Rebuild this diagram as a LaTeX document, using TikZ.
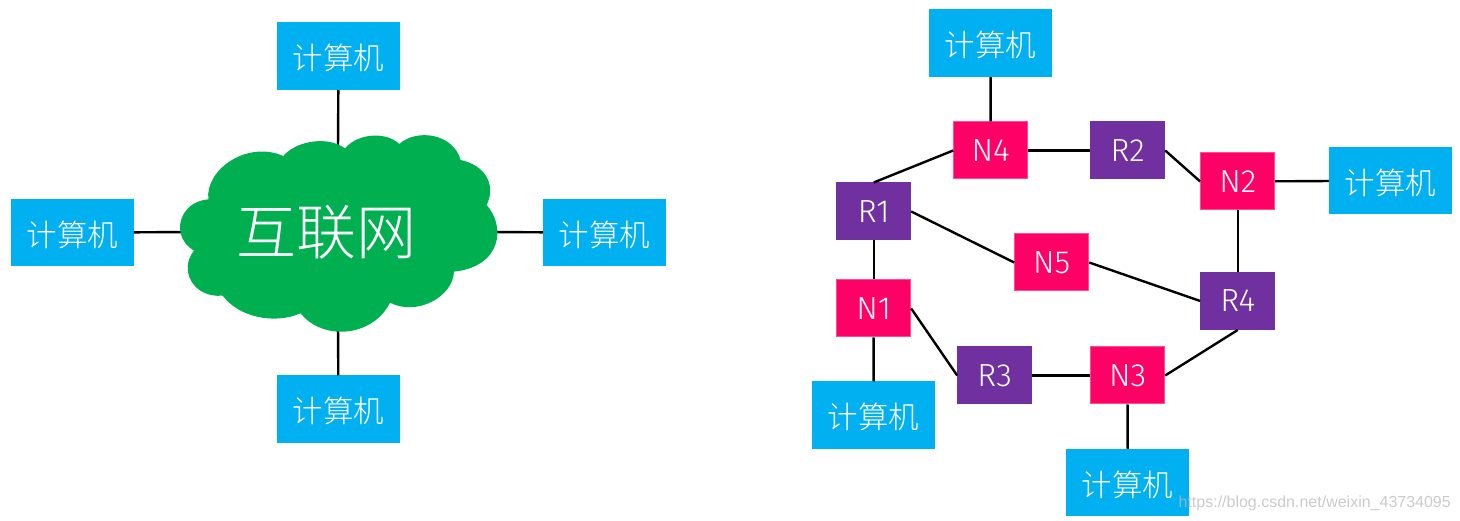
\documentclass[tikz,border=0pt]{standalone}
\usepackage{fontspec}
\newfontfamily\latinfont{Fira Sans Light}
\newfontfamily\cjk{Noto Sans CJK SC Light}
\definecolor{compblue}{HTML}{00B0F0}
\definecolor{cloudgreen}{HTML}{00B050}
\definecolor{npink}{HTML}{FF0066}
\definecolor{nedge}{HTML}{FF4D8F}
\definecolor{rpurple}{HTML}{7030A0}
\newcommand{\comptext}{\raisebox{-13.5pt}[0pt][0pt]{计算机}}
\tikzset{
  comp/.style={rectangle,fill=compblue,inner sep=0pt,minimum width=122.5pt,minimum height=67.5pt,text=white,font=\cjk\fontsize{30.5}{30.5}\selectfont},
  smallbox/.style={rectangle,inner sep=0pt,minimum width=74pt,minimum height=57pt,text=white,font=\latinfont\fontsize{32}{32}\selectfont,line width=1pt},
  nbox/.style={smallbox,fill=npink,draw=nedge},
  rbox/.style={smallbox,fill=rpurple,draw=rpurple},
  link/.style={draw=black,line width=2.4pt}
}
\begin{document}
\begin{tikzpicture}[x=1pt,y=-1pt]
\useasboundingbox (0,0) rectangle (1460,521);
% left graph
\node[comp] (ct) at (338.5,56.2) {\comptext};
\node[comp] (cl) at (72.5,232.7) {\comptext};
\node[comp] (cr) at (604.5,232.7) {\comptext};
\node[comp] (cb) at (338.5,409.2) {\comptext};
\coordinate (cloudtop) at (338,150);
\coordinate (cloudleft) at (190,232);
\coordinate (cloudright) at (490,232);
\coordinate (cloudbottom) at (338,325);
\draw[link] (ct) -- (cloudtop);
\draw[link] (cl) -- (cloudleft);
\draw[link] (cr) -- (cloudright);
\draw[link] (cb) -- (cloudbottom);
\begin{scope}[shift={(170,120)},x=0.3333pt,y=-0.3333pt]
\fill[cloudgreen] (115,238)
 .. controls (105,150) and (230,60) .. (340,108)
 .. controls (375,65) and (470,45) .. (525,85)
 .. controls (565,38) and (650,35) .. (688,72)
 .. controls (740,25) and (850,40) .. (872,120)
 .. controls (945,135) and (980,195) .. (950,255)
 .. controls (1008,320) and (995,440) .. (852,455)
 .. controls (850,530) and (740,590) .. (660,548)
 .. controls (610,650) and (460,665) .. (392,580)
 .. controls (310,615) and (205,590) .. (158,527)
 .. controls (70,535) and (25,450) .. (72,392)
 .. controls (0,350) and (25,245) .. (115,238) -- cycle;
\end{scope}
\node[text=white,inner sep=0pt,font=\cjk\fontsize{60}{60}\selectfont] (net) at (326,232) {互联网};
% right graph
\node[comp] (c4) at (990.5,43.2) {\comptext};
\node[comp] (c2) at (1390.5,180.7) {\comptext};
\node[comp] (c1) at (873.5,415.2) {\comptext};
\node[comp] (c3) at (1127.5,482.7) {\comptext};
\node[nbox] (N4) at (990.7,150.5) {N4};
\node[rbox] (R2) at (1127.7,150.5) {R2};
\node[nbox] (N2) at (1237.7,181.5) {N2};
\node[rbox] (R1) at (873.7,211.5) {R1};
\node[nbox] (N5) at (1051.7,262.5) {N5};
\node[rbox] (R4) at (1237.7,301) {R4};
\node[nbox] (N1) at (873.7,308.5) {N1};
\node[rbox] (R3) at (994.7,375.5) {R3};
\node[nbox] (N3) at (1127.7,375.5) {N3};
\draw[link] (c4) -- (N4);
\draw[link] (N4) -- (R2);
\draw[link] (N4.west) -- (R1.north);
\draw[link] (R2.east) -- (N2.west);
\draw[link] (N2) -- (c2);
\draw[link] (N2) -- (R4);
\draw[link] (R1.east) -- (N5.west);
\draw[link] (N5.east) -- (R4.west);
\draw[link] (R1) -- (N1);
\draw[link] (N1) -- (c1);
\draw[link] (N1.east) -- (R3.west);
\draw[link] (R3) -- (N3);
\draw[link] (N3.east) -- (R4.south);
\draw[link] (N3) -- (c3);
\node[anchor=east,inner sep=0pt,text=gray!55,opacity=0.75,font=\fontspec{Liberation Sans}\fontsize{16}{16}\selectfont] (mark) at (1451,503) {https://blog.csdn.net/weixin\_43734095};
\end{tikzpicture}
\end{document}
